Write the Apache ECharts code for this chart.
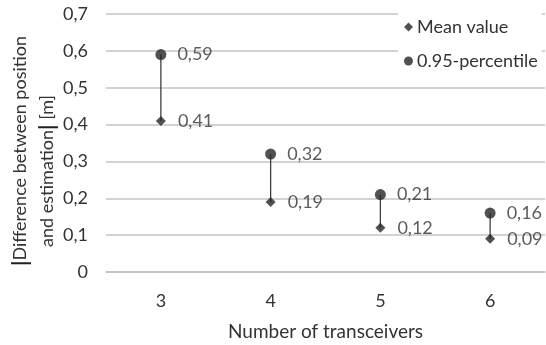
<!DOCTYPE html>
<html>
<head>
<meta charset="utf-8">
<script src="https://cdn.jsdelivr.net/npm/echarts@6/dist/echarts.min.js"></script>
<style>html,body{margin:0;padding:0;background:#fff}#c{width:546px;height:345px}</style>
</head>
<body>
<div id="c"></div>
<script>
const categories = ['3', '4', '5', '6'];
const meanValues = [0.41, 0.19, 0.12, 0.09];
const percentileValues = [0.59, 0.32, 0.21, 0.16];
const yTicks = [0, 0.1, 0.2, 0.3, 0.4, 0.5, 0.6, 0.7];
const yTitleLines = ['{b||}Difference between position', 'and estimation{b||} [m]'];

const FONT = 'Lato';
const TXT = '#333333';
const fmt = v => (v === 0 ? '0' : Number(v).toFixed(2).replace(/0$/, '').replace('.', ','));

const chart = echarts.init(document.getElementById('c'), null, {renderer: 'canvas'});
const segData = categories.map((c, i) => [i, meanValues[i], percentileValues[i]]);
const titleStyle = (text) => ({
  text, fontFamily: FONT, fontSize: 18, fill: TXT, align: 'center', verticalAlign: 'middle',
  rich: {b: {fontFamily: FONT, fontSize: 21, fontWeight: 'bold', fill: '#222'}}
});

chart.setOption({
  animation: false,
  textStyle: {fontFamily: FONT},
  grid: {left: 106, right: 1, top: 14, bottom: 73, containLabel: false, outerBoundsMode: 'none'},
  graphic: [
    {type: 'text', x: 20, y: 151, rotation: Math.PI / 2, style: titleStyle(yTitleLines[0])},
    {type: 'text', x: 47, y: 171, rotation: Math.PI / 2, style: titleStyle(yTitleLines[1])}
  ],
  legend: {
    orient: 'vertical',
    left: 398, top: 2,
    padding: [16, 4, 10, 6],
    backgroundColor: '#fff',
    itemWidth: 9, itemHeight: 9, itemGap: 16,
    textStyle: {fontFamily: FONT, fontSize: 18, color: TXT, padding: [0, 0, 0, -1]},
    data: [
      {name: 'Mean value', icon: 'diamond'},
      {name: '0.95-percentile', icon: 'circle'}
    ]
  },
  xAxis: {
    type: 'category', data: categories,
    axisLine: {lineStyle: {color: '#bfbfbf', width: 1.5}},
    axisTick: {show: false},
    axisLabel: {fontFamily: FONT, fontSize: 18, color: TXT, margin: 20},
    name: 'Number of transceivers', nameLocation: 'middle', nameGap: 50,
    nameTextStyle: {fontFamily: FONT, fontSize: 19, color: TXT}
  },
  yAxis: {
    type: 'value', min: yTicks[0], max: yTicks[yTicks.length - 1], interval: 0.1,
    axisLine: {show: false}, axisTick: {show: false},
    splitLine: {lineStyle: {color: '#c4c4c4', width: 1.5}},
    axisLabel: {fontFamily: FONT, fontSize: 18, color: TXT, margin: 18, formatter: v => fmt(v)}
  },
  series: [
    {
      type: 'custom', name: 'seg', silent: true, z: 1,
      renderItem: (params, api) => {
        const a = api.coord([api.value(0), api.value(1)]);
        const b = api.coord([api.value(0), api.value(2)]);
        return {type: 'line', shape: {x1: a[0], y1: a[1], x2: b[0], y2: b[1]},
          style: {stroke: '#404040', lineWidth: 1.3}};
      },
      encode: {x: 0, y: [1, 2]},
      data: segData
    },
    {
      type: 'scatter', name: 'Mean value', symbol: 'diamond', symbolSize: 10, z: 3,
      itemStyle: {color: '#262626'},
      label: {show: true, position: 'right', distance: 12, fontFamily: FONT, fontSize: 18, color: TXT,
        formatter: p => fmt(p.value)},
      data: meanValues
    },
    {
      type: 'scatter', name: '0.95-percentile', symbol: 'circle', symbolSize: 11, z: 3,
      itemStyle: {color: '#262626'},
      label: {show: true, position: 'right', distance: 11, fontFamily: FONT, fontSize: 18, color: TXT,
        formatter: p => fmt(p.value)},
      data: percentileValues
    }
  ]
});
</script>
</body>
</html>
